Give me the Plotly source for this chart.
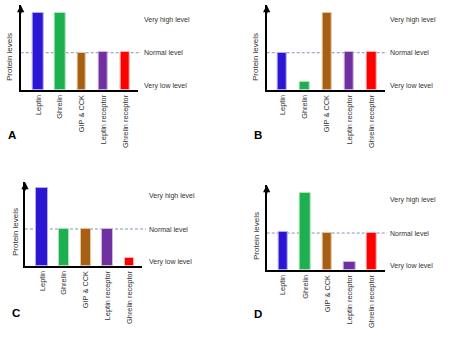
import plotly.graph_objects as go

# ---- data ----
categories = ["Leptin", "Ghrelin", "GIP & CCK", "Leptin receptor", "Ghrelin receptor"]
levels_A = [2.07, 2.07, 0.98, 1.01, 1.01]
levels_B = [0.99, 0.21, 2.07, 1.01, 1.01]
levels_C = [2.10, 1.00, 1.00, 1.00, 0.22]
levels_D = [1.02, 2.09, 0.99, 0.22, 0.99]
level_labels = ["Very high level", "Normal level", "Very low level"]
level_values = [1.89, 1.00, 0.12]
normal_level = 1.0
panel_letters = ["A", "B", "C", "D"]
y_title = "Protein levels"

colors = ["#2B17D3", "#1EAF51", "#A75F14", "#7030A0", "#FF0000"]
edge_colors = ["#B4ACF2", "#A8E6BC", "#E6C59F", "#CFB6E6", "#FFB3B3"]

W, H = 453, 337

# geometry per panel (pixels)
geo = [
    dict(xl=20.7, xr=138, yb=90, yt=5, ytop=2.28, xr_rng=[-0.806, 4.587],
         widths=[0.53, 0.49, 0.40, 0.41, 0.43], lab_x=142.0, dash_end=141,
         yt_x=10, yt_y=57, let_x=11.5, let_y=135),
    dict(xl=266.7, xr=385, yb=90, yt=5, ytop=2.28, xr_rng=[-0.698, 4.595],
         widths=[0.43, 0.46, 0.43, 0.39, 0.43], lab_x=387.5, dash_end=387,
         yt_x=256, yt_y=57, let_x=257.5, let_y=135),
    dict(xl=25, xr=141.7, yb=266, yt=182, ytop=2.27, xr_rng=[-0.784, 4.55],
         widths=[0.52, 0.46, 0.46, 0.52, 0.44], lab_x=146.5, dash_end=146,
         yt_x=15, yt_y=232, let_x=16, let_y=313),
    dict(xl=266.7, xr=385, yb=270, yt=185, ytop=2.3, xr_rng=[-0.737, 4.59],
         widths=[0.41, 0.46, 0.42, 0.50, 0.43], lab_x=387.5, dash_end=387,
         yt_x=256, yt_y=236, let_x=257.5, let_y=314),
]
all_levels = [levels_A, levels_B, levels_C, levels_D]

FONT = "Liberation Sans, Arial, sans-serif"
fig = go.Figure()
annotations = []
shapes = []
layout_axes = {}

for i, (g, vals) in enumerate(zip(geo, all_levels)):
    n = i + 1
    xa = "x" if n == 1 else f"x{n}"
    ya = "y" if n == 1 else f"y{n}"
    xkey = "xaxis" if n == 1 else f"xaxis{n}"
    ykey = "yaxis" if n == 1 else f"yaxis{n}"
    fig.add_trace(go.Bar(
        x=categories, y=vals, xaxis=xa, yaxis=ya, width=g["widths"],
        marker=dict(color=colors, line=dict(color=edge_colors, width=1)),
        showlegend=False, hoverinfo="skip"))
    layout_axes[xkey] = dict(
        domain=[g["xl"] / W, g["xr"] / W], anchor=ya, range=g["xr_rng"],
        showline=True, linecolor="black", linewidth=2, showgrid=False,
        zeroline=False, ticks="", tickangle=-90,
        tickfont=dict(family=FONT, size=7.4, color="#333"),
        fixedrange=True)
    layout_axes[ykey] = dict(
        domain=[1 - g["yb"] / H, 1 - g["yt"] / H], anchor=xa,
        range=[0, g["ytop"]], showline=True, linecolor="black", linewidth=2,
        showgrid=False, zeroline=False, showticklabels=False, ticks="",
        fixedrange=True)
    # arrowhead at top of y axis
    annotations.append(dict(
        x=0, y=1, xref=f"{xa} domain", yref=f"{ya} domain", showarrow=True,
        ax=0, ay=10, arrowhead=2, arrowsize=0.9, arrowwidth=1.6,
        arrowcolor="black", text=""))
    # dashed normal level
    shapes.append(dict(
        type="line", xref="paper", yref=ya, x0=g["xl"] / W, x1=g["dash_end"] / W,
        y0=normal_level, y1=normal_level,
        line=dict(color="#7F97B8", width=1, dash="3px,2px"), layer="below"))
    # level labels
    for lbl, v in zip(level_labels, level_values):
        annotations.append(dict(
            x=g["lab_x"] / W, y=v, xref="paper", yref=ya, text=lbl,
            showarrow=False, xanchor="left", yanchor="middle",
            font=dict(family=FONT, size=7, color="#333")))
    # y title
    annotations.append(dict(
        x=g["yt_x"] / W, y=1 - g["yt_y"] / H, xref="paper", yref="paper",
        text=y_title, textangle=-90, showarrow=False, xanchor="center",
        yanchor="middle", font=dict(family=FONT, size=8, color="#333")))
    # panel letter
    annotations.append(dict(
        x=g["let_x"] / W, y=1 - g["let_y"] / H, xref="paper", yref="paper",
        text=f"<b>{panel_letters[i]}</b>", showarrow=False, xanchor="center",
        yanchor="middle", font=dict(family=FONT, size=11.5, color="black")))

fig.update_layout(
    width=W, height=H, autosize=False,
    margin=dict(l=0, r=0, t=0, b=0),
    paper_bgcolor="white", plot_bgcolor="white",
    annotations=annotations, shapes=shapes, bargap=0,
    **layout_axes)

fig.write_html("out.html", config={"displayModeBar": False})
